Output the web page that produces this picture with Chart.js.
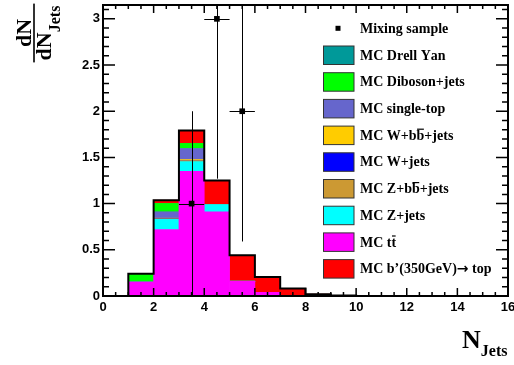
<!DOCTYPE html>
<html>
<head>
<meta charset="utf-8">
<script src="https://cdn.jsdelivr.net/npm/chart.js@4.4.1/dist/chart.umd.min.js"></script>
<style>
  html, body { margin: 0; padding: 0; background: #fff; }
  canvas { display: block; }
</style>
</head>
<body>
<canvas id="njets" width="514" height="365"></canvas>
<script>
// N_jets distribution: stacked MC histograms + mixing sample points

// bin centres (bins of width 1, from 1 to 10)
const binCenters = [1.5, 2.5, 3.5, 4.5, 5.5, 6.5, 7.5, 8.5, 9.5];

// MC contributions per bin, stacked bottom -> top
const ttbar   = [0.15, 0.72, 1.35, 0.91, 0.16, 0.04, 0.005, 0, 0];
const zJets   = [0, 0.11, 0.105, 0.08, 0, 0, 0, 0, 0];
const zbbJets = [0, 0.005, 0.005, 0, 0, 0, 0, 0, 0];
const wJets   = [0, 0.002, 0.002, 0, 0, 0, 0, 0, 0];
const wbbJets = [0, 0.005, 0.015, 0, 0, 0, 0, 0, 0];
const singleTop = [0.005, 0.07, 0.12, 0, 0, 0, 0, 0, 0];
const diboson = [0.085, 0.09, 0.055, 0, 0, 0, 0, 0, 0];
const drellYan = [0, 0, 0, 0, 0, 0, 0, 0, 0];
const bPrime  = [0, 0.035, 0.14, 0.26, 0.28, 0.165, 0.075, 0.02, 0.005];

// mixing sample (data points with errors)
const mixX = [3.5, 4.5, 5.5];
const mixY = [1, 3, 2];
const mixErr = [1, 1.73, 1.41];
const mixHalfWidth = 0.5;

// tick labels
const xTickLabels = ['0', '2', '4', '6', '8', '10', '12', '14', '16'];
const yTickLabels = ['0', '0.5', '1', '1.5', '2', '2.5', '3'];

// legend (top -> bottom); \u0305 marks an overlined letter
const legendLabels = [
  'MC Drell Yan', 'MC Diboson+jets', 'MC single-top', 'MC W+bb\u0305+jets',
  'MC W+jets', 'MC Z+bb\u0305+jets', 'MC Z+jets', 'MC tt\u0305',
  'MC b\u2019(350GeV)\u2192 top'
];
const legendColors = [
  '#009999', '#00ff00', '#6666cc', '#ffcc00',
  '#0000ff', '#cc9933', '#00ffff', '#ff00ff', '#ff0000'
];

// stack order, bottom first
const stackSeries = [
  { label: 'MC tt', data: ttbar, color: '#ff00ff' },
  { label: 'MC Z+jets', data: zJets, color: '#00ffff' },
  { label: 'MC Z+bb+jets', data: zbbJets, color: '#cc9933' },
  { label: 'MC W+jets', data: wJets, color: '#0000ff' },
  { label: 'MC W+bb+jets', data: wbbJets, color: '#ffcc00' },
  { label: 'MC single-top', data: singleTop, color: '#6666cc' },
  { label: 'MC Diboson+jets', data: diboson, color: '#00ff00' },
  { label: 'MC Drell Yan', data: drellYan, color: '#009999' },
  { label: 'MC b\'', data: bPrime, color: '#ff0000' }
];

// total of the stack -> stepped outline (left edge of each bin)
const totals = binCenters.map((_, i) => stackSeries.reduce((s, d) => s + d.data[i], 0));
const outlinePts = [{ x: binCenters[0] - 0.5, y: 0 }];
totals.forEach((t, i) => outlinePts.push({ x: binCenters[i] - 0.5, y: t }));
outlinePts.push({ x: binCenters[binCenters.length - 1] + 0.5, y: 0 });

const serif = '"Liberation Serif", "Times New Roman", serif';
const sans = '"Liberation Sans", Arial, sans-serif';

// error bars for the mixing sample, drawn just before its markers
const errorBars = {
  id: 'errorBars',
  beforeDatasetDraw(chart, args) {
    if (args.index !== 0) return;
    const { ctx, chartArea: a, scales: { x, y } } = chart;
    ctx.save();
    ctx.beginPath();
    ctx.rect(a.left, a.top, a.right - a.left, a.bottom - a.top);
    ctx.clip();
    ctx.strokeStyle = '#000';
    ctx.lineWidth = 1;
    ctx.beginPath();
    mixX.forEach((mx, i) => {
      const px = Math.round(x.getPixelForValue(mx)) + 0.5;
      const py = Math.round(y.getPixelForValue(mixY[i])) + 0.5;
      ctx.moveTo(px, y.getPixelForValue(mixY[i] - mixErr[i]));
      ctx.lineTo(px, y.getPixelForValue(mixY[i] + mixErr[i]));
      ctx.moveTo(x.getPixelForValue(mx - mixHalfWidth), py);
      ctx.lineTo(x.getPixelForValue(mx + mixHalfWidth), py);
    });
    ctx.stroke();
    ctx.restore();
  }
};

function drawRichText(ctx, text, x, y, font) {
  // draws text, putting a bar over any letter followed by \u0305
  let cx = x;
  for (let i = 0; i < text.length; i++) {
    const ch = text[i];
    if (ch === '\u0305') continue;
    ctx.font = ch === '\u2192' ? 'bold 14px "DejaVu Sans", sans-serif' : font;
    const w = ctx.measureText(ch).width;
    ctx.fillText(ch, cx, y);
    if (text[i + 1] === '\u0305') {
      ctx.fillRect(cx + 0.5, y - 7.5, w - 1, 1.2);
    }
    cx += w;
  }
  ctx.font = font;
  return cx;
}

const decorations = {
  id: 'decorations',
  afterDraw(chart) {
    const { ctx, chartArea: a, scales: { x, y } } = chart;
    ctx.save();

    // ticks on all four sides, pointing inwards
    ctx.strokeStyle = '#000';
    ctx.lineWidth = 1.5;
    ctx.beginPath();
    for (let i = 0; i <= 32; i++) {
      const px = x.getPixelForValue(i * 0.5);
      const len = i % 4 === 0 ? 8 : 4;
      ctx.moveTo(px, a.bottom); ctx.lineTo(px, a.bottom - len);
      ctx.moveTo(px, a.top); ctx.lineTo(px, a.top + len);
    }
    for (let i = 0; i <= 31; i++) {
      const py = y.getPixelForValue(i / 10);
      const len = i % 5 === 0 ? 12 : 6;
      ctx.moveTo(a.left, py); ctx.lineTo(a.left + len, py);
      ctx.moveTo(a.right, py); ctx.lineTo(a.right - len, py);
    }
    ctx.stroke();

    // frame
    ctx.lineWidth = 2;
    ctx.strokeRect(a.left, a.top, a.right - a.left, a.bottom - a.top);

    // legend
    const legFont = 'bold 14px ' + serif;
    ctx.fillStyle = '#000';
    ctx.font = legFont;
    ctx.textBaseline = 'middle';
    ctx.textAlign = 'left';
    const rowY0 = 28.3, rowStep = 26.7;
    ctx.fillRect(335.5, rowY0 - 2.5, 5, 5);
    ctx.fillText('Mixing sample', 360, rowY0 + 1);
    legendLabels.forEach((lab, i) => {
      const ry = rowY0 + (i + 1) * rowStep;
      ctx.fillStyle = legendColors[i];
      ctx.fillRect(323.5, ry - 9, 30.5, 18.5);
      ctx.strokeStyle = '#333';
      ctx.lineWidth = 1;
      ctx.strokeRect(323.5, ry - 9, 30.5, 18.5);
      ctx.fillStyle = '#000';
      drawRichText(ctx, lab, 360, ry + 1, legFont);
    });

    // x title: N_Jets
    ctx.textBaseline = 'alphabetic';
    ctx.font = 'bold 26px ' + serif;
    ctx.fillText('N', 462, 348);
    const nW = ctx.measureText('N').width;
    ctx.font = 'bold 16px ' + serif;
    ctx.fillText('Jets', 462 + nW, 356);

    // y title: dN / dN_Jets (rotated)
    ctx.translate(34, 33);
    ctx.rotate(-Math.PI / 2);
    ctx.font = 'bold 22px ' + serif;
    const dnW = ctx.measureText('dN').width;
    ctx.font = 'bold 16px ' + serif;
    const jW = ctx.measureText('Jets').width;
    const denW = dnW + jW;
    ctx.textAlign = 'center';
    ctx.font = 'bold 22px ' + serif;
    ctx.fillText('dN', 0, -3);
    ctx.fillRect(-denW / 2 - 2, -0.8, denW + 4, 1.6);
    ctx.textAlign = 'left';
    ctx.fillText('dN', -denW / 2, 17);
    ctx.font = 'bold 16px ' + serif;
    ctx.fillText('Jets', -denW / 2 + dnW, 26);

    ctx.restore();
  }
};

const datasets = [
  {
    type: 'line',
    label: 'Mixing sample',
    data: mixX.map((mx, i) => ({ x: mx, y: mixY[i] })),
    showLine: false,
    pointStyle: 'rect',
    pointRadius: 4,
    pointBorderWidth: 0,
    pointBackgroundColor: '#000',
    stack: 'mix'
  },
  {
    type: 'line',
    label: 'total',
    data: outlinePts,
    stepped: true,
    borderColor: '#000',
    borderWidth: 2,
    pointRadius: 0,
    fill: false,
    stack: 'outline'
  }
];
stackSeries.forEach(s => {
  datasets.push({
    type: 'bar',
    label: s.label,
    data: binCenters.map((c, i) => ({ x: c, y: s.data[i] })),
    backgroundColor: s.color,
    borderWidth: 0,
    barPercentage: 1,
    categoryPercentage: 1,
    stack: 'mc'
  });
});

new Chart(document.getElementById('njets'), {
  data: { datasets },
  options: {
    responsive: false,
    animation: false,
    devicePixelRatio: 1,
    layout: { padding: { left: 0, right: 6, top: 5, bottom: 0 } },
    plugins: { legend: { display: false }, tooltip: { enabled: false } },
    scales: {
      x: {
        type: 'linear',
        min: 0,
        max: 16,
        offset: false,
        grid: { display: false, drawTicks: false, offset: false },
        border: { display: false },
        ticks: {
          stepSize: 2,
          autoSkip: false,
          includeBounds: false,
          maxRotation: 0,
          padding: 4,
          color: '#000',
          font: { family: sans, weight: 'bold', size: 13 },
          callback: (v) => xTickLabels[Math.round(v / 2)] ?? ''
        },
        afterFit(s) { s.height = 69; s.paddingLeft = 0; s.paddingRight = 0; }
      },
      y: {
        type: 'linear',
        min: 0,
        max: 3.15,
        stacked: true,
        grid: { display: false, drawTicks: false },
        border: { display: false },
        ticks: {
          stepSize: 0.5,
          autoSkip: false,
          includeBounds: false,
          padding: 3,
          color: '#000',
          font: { family: sans, weight: 'bold', size: 13 },
          callback: (v) => {
            const k = v * 2;
            return Math.abs(k - Math.round(k)) < 1e-6 ? (yTickLabels[Math.round(k)] ?? '') : '';
          }
        },
        afterFit(s) { s.width = 103; s.paddingTop = 0; s.paddingBottom = 0; }
      }
    }
  },
  plugins: [errorBars, decorations]
});
</script>
</body>
</html>
